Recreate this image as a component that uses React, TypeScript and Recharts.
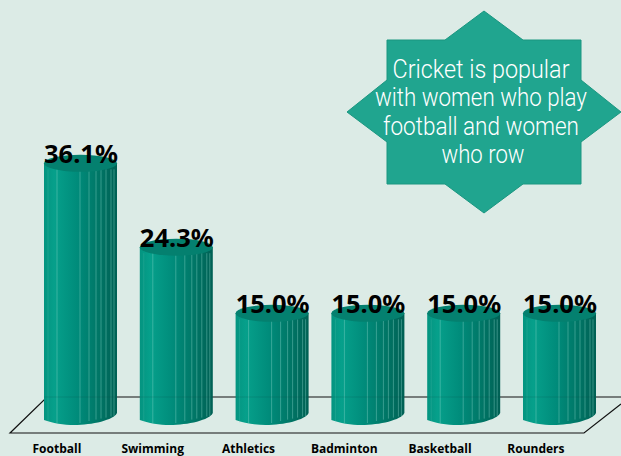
import React from 'react';
import { BarChart, Bar, XAxis, YAxis, LabelList, Customized } from 'recharts';

const categories = ['Football', 'Swimming', 'Athletics', 'Badminton', 'Basketball', 'Rounders'];
const values = [36.1, 24.3, 15.0, 15.0, 15.0, 15.0];
const calloutLines = ['Cricket is popular', 'with women who play', 'football and women', 'who row'];
const calloutWidths = [177, 212, 196, 83];
const stripeOffsets = [4, 13, 36, 45, 52, 57, 62, 67, 70];
const data = categories.map((name, i) => ({ name, value: values[i] }));

const W = 621;
const H = 456;
const BG = '#dcebe6';

const Cylinder = (props: any) => {
  const { x, y, width, height } = props;
  const top = y;
  const base = y + height;
  const rx = width / 2;
  const ry = 8.5;
  const cx = x + rx;
  const r = x + width;
  const body = `M${x},${top} L${x},${base} C${x + 8},${base + 3} ${x + 20},${base + 5} ${x + 30},${base + 5} C${x + 48},${base + 5} ${r - 3},${base} ${r},${base - 7} L${r},${top} Z`;
  return (
    <g>
      <path d={body} fill="url(#cyl)" />
      {stripeOffsets.map((o, i) => (
        <line key={i} x1={x + o} x2={x + o} y1={top + 6} y2={base + (o < 45 ? 3 : 1 - (o - 45) / 5)} stroke="#8ad8ca" strokeOpacity={i === 0 ? 0.2 : 0.5} strokeWidth={0.8} />
      ))}
      <line x1={x} x2={r} y1={397} y2={397} stroke="#0a4a40" strokeOpacity={0.18} strokeWidth={1} />
      <ellipse cx={cx} cy={top} rx={rx} ry={ry} fill="#04806f" />
    </g>
  );
};

const ValueLabel = (props: any) => {
  const { x, y, width, value } = props;
  return (
    <text x={x + width / 2 + 0.5} y={y} textAnchor="middle" fontFamily="'Noto Sans', sans-serif" fontWeight={700} fontSize={25.5} fill="#000">
      {`${Number(value).toFixed(1)}%`}
    </text>
  );
};

const CategoryTick = (props: any) => {
  const { x, y, payload } = props;
  return (
    <text x={x - 24} y={y + 24.5} textAnchor="middle" fontFamily="'Open Sans', sans-serif" fontWeight={700} fontSize={12} fill="#000">
      {payload.value}
    </text>
  );
};

const Floor = () => (
  <g stroke="#111" strokeWidth={1.2} fill="none">
    <path d="M621,397 L47,397 L10,433 L584,433 L621,404" />
  </g>
);

const Callout = () => {
  const pts = '484,11 445,40 387,40 387,80 347,112 387,142 387,184 445,184 484,213 523,184 581,184 581,142 621,112 581,80 581,40 523,40';
  return (
    <g>
      <polygon points={pts} fill="#20a58f" stroke="#1a9680" strokeWidth={1} />
      {calloutLines.map((l, i) => (
        <text key={l} x={i === 3 ? 483 : 481} y={78 + i * 28.4} textAnchor="middle" fontFamily="Roboto, sans-serif" fontWeight={300} fontSize={25} fill="#fff" textLength={calloutWidths[i]} lengthAdjust="spacingAndGlyphs">
          {l}
        </text>
      ))}
    </g>
  );
};

export default function App() {
  return (
    <div style={{ position: 'absolute', left: 0, top: 0, width: W, height: H, background: BG, overflow: 'hidden' }}>
      <BarChart width={W} height={H} data={data} margin={{ top: 64.5, right: 13.2, bottom: 0, left: 33 }}>
        <defs>
          <linearGradient id="cyl" x1="0" x2="1" y1="0" y2="0">
            <stop offset="0" stopColor="#049480" />
            <stop offset="0.14" stopColor="#06a08b" />
            <stop offset="0.45" stopColor="#008c7b" />
            <stop offset="0.75" stopColor="#007666" />
            <stop offset="1" stopColor="#006054" />
          </linearGradient>
        </defs>
        <Customized component={Floor} />
        <XAxis dataKey="name" axisLine={false} tickLine={false} height={36} interval={0} tick={<CategoryTick />} />
        <YAxis hide domain={[0, 50]} />
        <Bar dataKey="value" barSize={73} shape={<Cylinder />} isAnimationActive={false}>
          <LabelList dataKey="value" content={<ValueLabel />} />
        </Bar>
        <Customized component={Callout} />
      </BarChart>
    </div>
  );
}
